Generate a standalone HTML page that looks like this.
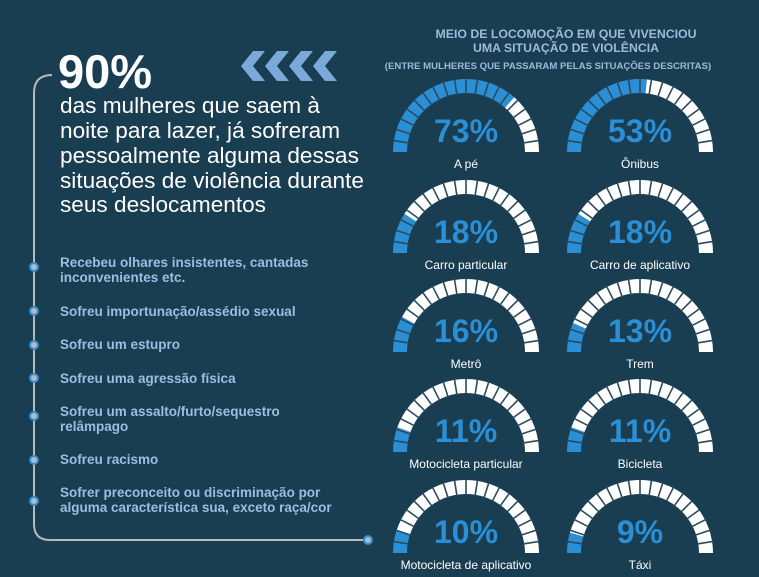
<!DOCTYPE html>
<html><head><meta charset="utf-8"><style>
html,body{margin:0;padding:0;background:#193d51;}
svg{display:block}
text{font-family:"Liberation Sans",sans-serif}
</style></head><body>
<svg id="s" width="759" height="577" viewBox="0 0 759 577" xmlns="http://www.w3.org/2000/svg">
<rect width="759" height="577" fill="#193d51"/>
<path d="M52,75 Q34,75 34,93 L34,524 Q34,540 50,540 L368,540" fill="none" stroke="#b9b9b9" stroke-width="2"/>
<g fill="#b9b9b9" stroke="#2e8fd8" stroke-width="2">
<circle cx="34" cy="267" r="4"/><circle cx="34" cy="311" r="4"/><circle cx="34" cy="345" r="4"/>
<circle cx="34" cy="378" r="4"/><circle cx="34" cy="416" r="4"/><circle cx="34" cy="460" r="4"/>
<circle cx="34" cy="501" r="4"/><circle cx="368" cy="540" r="4"/>
</g>
<g fill="#7ba9d9">
<path d="M253,51 L265,51 L253,66 L265,81 L253,81 L241,66Z"/>
<path d="M277,51 L289,51 L277,66 L289,81 L277,81 L265,66Z"/>
<path d="M301,51 L313,51 L301,66 L313,81 L301,81 L289,66Z"/>
<path d="M325,51 L337,51 L325,66 L337,81 L325,81 L313,66Z"/>
</g>
<text x="58" y="88" font-size="47" font-weight="bold" fill="#fff">90%</text>
<g font-size="22.6" fill="#fff">
<text x="60" y="113">das mulheres que saem à</text>
<text x="60" y="138">noite para lazer, já sofreram</text>
<text x="60" y="163">pessoalmente alguma dessas</text>
<text x="60" y="188">situações de violência durante</text>
<text x="60" y="212">seus deslocamentos</text>
</g>
<g font-size="13.5" font-weight="bold" fill="#9dbde2">
<text x="60" y="267">Recebeu olhares insistentes, cantadas</text>
<text x="60" y="282">inconvenientes etc.</text>
<text x="60" y="316">Sofreu importunação/assédio sexual</text>
<text x="60" y="349">Sofreu um estupro</text>
<text x="60" y="383">Sofreu uma agressão física</text>
<text x="60" y="416">Sofreu um assalto/furto/sequestro</text>
<text x="60" y="431">relâmpago</text>
<text x="60" y="464">Sofreu racismo</text>
<text x="60" y="497">Sofrer preconceito ou discriminação por</text>
<text x="60" y="512">alguma característica sua, exceto raça/cor</text>
</g>
<g font-weight="bold" fill="#9fb9dd" text-anchor="middle">
<text x="566" y="38" font-size="12.3">MEIO DE LOCOMOÇÃO EM QUE VIVENCIOU</text>
<text x="566" y="52" font-size="12.3">UMA SITUAÇÃO DE VIOLÊNCIA</text>
<text x="548" y="69" font-size="9.6">(ENTRE MULHERES QUE PASSARAM PELAS SITUAÇÕES DESCRITAS)</text>
</g>
<g id="g"></g>
</svg>
<script>
var data=[[466,152,73,"A pé"],[640,152,53,"Ônibus"],[466,253,18,"Carro particular"],[640,253,18,"Carro de aplicativo"],
[466,352,16,"Metrô"],[640,352,13,"Trem"],[466,452,11,"Motocicleta particular"],[640,452,11,"Bicicleta"],
[466,553,10,"Motocicleta de aplicativo"],[640,553,9,"Táxi"]];
var ns="http://www.w3.org/2000/svg",G=document.getElementById("g"),R=73,r=59;
function pt(cx,cy,rad,a){return [cx-rad*Math.cos(a),cy-rad*Math.sin(a)];}
function arc(cx,cy,a0,a1){var p1=pt(cx,cy,R,a0),p2=pt(cx,cy,R,a1),p3=pt(cx,cy,r,a1),p4=pt(cx,cy,r,a0);
return "M"+p1+" A"+R+","+R+" 0 0,1 "+p2+" L"+p3+" A"+r+","+r+" 0 0,0 "+p4+"Z";}
function el(n,a,t){var e=document.createElementNS(ns,n);for(var k in a)e.setAttribute(k,a[k]);if(t)e.textContent=t;G.appendChild(e);}
data.forEach(function(d){var cx=d[0],cy=d[1],p=d[2]/100*Math.PI;
el("path",{d:arc(cx,cy,0,p),fill:"#2b8fd6"});
el("path",{d:arc(cx,cy,p,Math.PI),fill:"#ffffff"});
for(var i=1;i<20;i++){var a=i*Math.PI/20,q1=pt(cx,cy,r-1,a),q2=pt(cx,cy,R+1,a);
el("line",{x1:q1[0],y1:q1[1],x2:q2[0],y2:q2[1],stroke:"#2a4a5e","stroke-width":"1.6"});}
el("text",{x:cx,y:cy-10,"font-size":"32","font-weight":"bold",fill:"#2b8fd6","text-anchor":"middle","font-family":"Liberation Sans,sans-serif"},d[2]+"%");
el("text",{x:cx,y:cy+16,"font-size":"12",fill:"#fff","text-anchor":"middle","font-family":"Liberation Sans,sans-serif"},d[3]);
});
</script>
</body></html>
